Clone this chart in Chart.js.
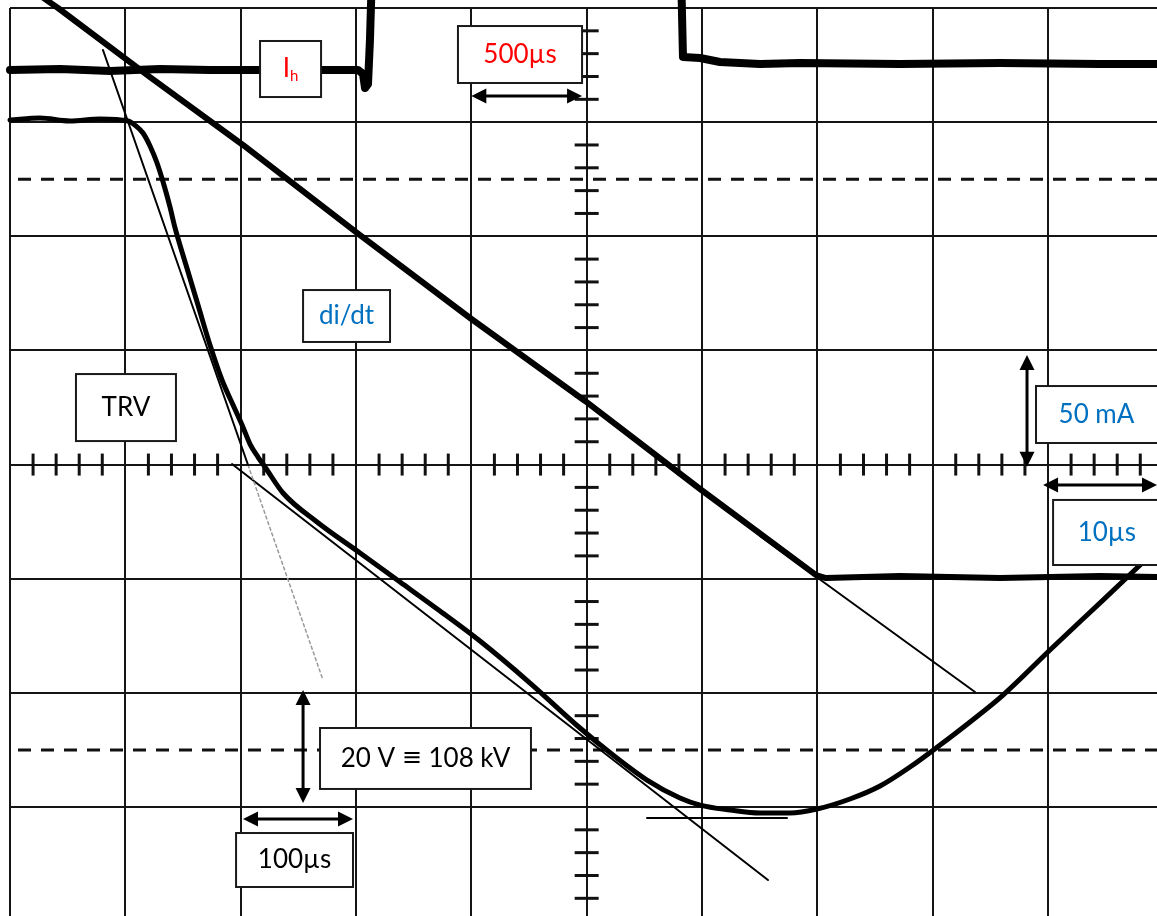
<!DOCTYPE html>
<html>
<head>
<meta charset="utf-8">
<script src="https://cdn.jsdelivr.net/npm/chart.js@4.4.1/dist/chart.umd.min.js"></script>
<style>
  html, body { margin: 0; padding: 0; background: #fff; overflow: hidden; }
  #wrap { position: relative; width: 1157px; height: 916px; }
</style>
</head>
<body>
<div id="wrap"><canvas id="scope" width="1157" height="916"></canvas></div>
<script>
// Oscilloscope screen: 10 x 8 divisions, values are in divisions
// (x: 0..10 from the left edge, y: -4..4 around the centre line).
const X_DIVS = [0, 1, 2, 3, 4, 5, 6, 7, 8, 9];
const Y_DIVS = [-3, -2, -1, 0, 1, 2, 3, 4];
const RISE_MARKS = [2.5, -2.5];

// Holding current I_h (leaves the screen between the two edges)
const ih_x = [0, 0.434, 0.867, 1.301, 1.734, 2.168, 2.775, 3.017, 3.061, 3.078, 3.104, 3.121, 3.139,
              5.809, 5.818, 5.835, 5.983, 6.156, 6.503, 6.850, 7.717, 8.584, 9.451, 9.945];
const ih_y = [3.457, 3.466, 3.448, 3.466, 3.457, 3.457, 3.457, 3.457, 3.422, 3.299, 3.334, 3.720, 4.333,
              4.333, 4.333, 3.571, 3.562, 3.527, 3.509, 3.518, 3.509, 3.518, 3.509, 3.509];

// Current ramp di/dt down to its floor
const didt_x = [0.217, 0.416, 1.214, 2.020, 3.009, 3.989, 4.986, 5.983, 6.989, 7.075,
                7.717, 8.584, 9.451, 9.945];
const didt_y = [4.140, 4.000, 3.395, 2.800, 2.029, 1.284, 0.557, -0.214, -0.968, -0.994,
                -0.976, -0.994, -0.976, -0.985];

// Transient recovery voltage
const trv_x = [0, 0.260, 0.520, 0.780, 1.023, 1.093, 1.153, 1.214, 1.275, 1.335, 1.387, 1.431, 1.526,
               1.630, 1.734, 1.838, 1.934, 2.012, 2.081, 2.150, 2.211, 2.367, 2.662, 3.035, 3.382,
               3.728, 4.075, 4.509, 4.942, 5.228, 5.523, 5.809, 5.983, 6.243, 6.503, 6.763, 6.997,
               7.283, 7.544, 7.803, 8.064, 8.324, 8.610, 9.017, 9.477, 9.945];
const trv_y = [3.019, 3.036, 3.010, 3.028, 3.010, 2.966, 2.905, 2.791, 2.642, 2.449, 2.257, 2.073, 1.748,
               1.398, 1.047, 0.741, 0.522, 0.347, 0.180, 0.066, -0.021, -0.249, -0.503, -0.775, -1.029,
               -1.283, -1.546, -1.914, -2.308, -2.545, -2.764, -2.921, -2.983, -3.026, -3.053, -3.053, -3.018,
               -2.930, -2.816, -2.650, -2.457, -2.255, -2.019, -1.625, -1.187, -0.740];

// Hand-drawn tangents
const tan_didt_x = [6.503, 8.367];
const tan_didt_y = [-0.626, -1.993];
const tan_trv1_x = [0.806, 2.064];
const tan_trv1_y = [3.632, -0.004];
const tan_trv1_faint_x = [2.064, 2.714];
const tan_trv1_faint_y = [-0.004, -1.888];
const tan_trv2_x = [1.925, 6.572];
const tan_trv2_y = [0.005, -3.640];
const tan_min_x = [5.523, 6.737];
const tan_min_y = [-3.097, -3.097];

const pts = (xs, ys) => xs.map((x, i) => ({ x, y: ys[i] }));

const RED = '#ff0000';
const BLUE = '#0070c0';
const INK = '#000000';
const FONT = "Lato, 'Open Sans', sans-serif";
const SYM_FONT = "'DejaVu Sans', sans-serif";

// Label boxes and scale arrows, placed in screen divisions
const LABELS = [
  { box: [2.168, 3.711, 2.697, 3.220], parts: [{ t: 'I', c: RED }, { t: 'h', c: RED, sub: true }] },
  { box: [3.884, 3.842, 4.960, 3.343], parts: [{ t: '500µs', c: RED }] },
  { box: [2.541, 1.529, 3.295, 1.074], parts: [{ t: 'di/dt', c: BLUE }] },
  { box: [0.572, 0.793, 1.439, 0.206], parts: [{ t: 'TRV', c: INK }] },
  { box: [8.896, 0.688, 10.05, 0.189], parts: [{ t: '50 mA', c: BLUE }], textX: 9.42 },
  { box: [9.044, -0.310, 10.05, -0.880], parts: [{ t: '10µs', c: BLUE }], textX: 9.51 },
  { box: [2.688, -2.308, 4.517, -2.842],
    parts: [{ t: '20 V ', c: INK }, { t: '\u2261', c: INK, sym: true }, { t: ' 108 kV', c: INK }] },
  { box: [1.960, -3.228, 2.974, -3.701], parts: [{ t: '100µs', c: INK }] }
];
const ARROWS = [
  [4.000, 3.229, 4.960, 3.229],
  [8.818, 0.960, 8.818, -0.020],
  [8.957, -0.179, 9.945, -0.179],
  [2.541, -1.975, 2.541, -2.965],
  [2.020, -3.105, 2.974, -3.105]
];

const graticule = {
  id: 'graticule',
  beforeDatasetsDraw(chart) {
    const { ctx, chartArea: a, scales: { x, y } } = chart;
    ctx.save();
    // dashed rise-time marks
    ctx.strokeStyle = '#111';
    ctx.lineWidth = 3;
    ctx.setLineDash([13, 10]);
    RISE_MARKS.forEach(v => {
      const py = y.getPixelForValue(v);
      ctx.beginPath();
      ctx.moveTo(a.left + 8, py);
      ctx.lineTo(a.right, py);
      ctx.stroke();
    });
    ctx.setLineDash([]);
    // minor ticks on the centre cross
    const cy = y.getPixelForValue(0), cx = x.getPixelForValue(5);
    ctx.lineWidth = 3;
    for (let k = 1; k < 50; k++) {
      if (k % 5 === 0) continue;
      const px = x.getPixelForValue(k * 0.2);
      ctx.beginPath(); ctx.moveTo(px, cy - 11); ctx.lineTo(px, cy + 11); ctx.stroke();
    }
    for (let k = -19; k < 20; k++) {
      if (k % 5 === 0) continue;
      const py = y.getPixelForValue(k * 0.2);
      ctx.beginPath(); ctx.moveTo(cx - 12, py); ctx.lineTo(cx + 12, py); ctx.stroke();
    }
    ctx.restore();
  }
};

function arrowHead(ctx, x, y, ang) {
  const L = 15, W = 7.5;
  ctx.beginPath();
  ctx.moveTo(x, y);
  ctx.lineTo(x - L * Math.cos(ang) + W * Math.sin(ang), y - L * Math.sin(ang) - W * Math.cos(ang));
  ctx.lineTo(x - L * Math.cos(ang) - W * Math.sin(ang), y - L * Math.sin(ang) + W * Math.cos(ang));
  ctx.closePath();
  ctx.fill();
}

const partFont = p => p.sub ? '15px ' + FONT : (p.sym ? '24px ' + SYM_FONT : '26px ' + FONT);

const annotations = {
  id: 'annotations',
  afterDatasetsDraw(chart) {
    const { ctx, scales: { x, y } } = chart;
    ctx.save();
    LABELS.forEach(lb => {
      const x0 = x.getPixelForValue(lb.box[0]), y0 = y.getPixelForValue(lb.box[1]);
      const x1 = x.getPixelForValue(lb.box[2]), y1 = y.getPixelForValue(lb.box[3]);
      ctx.fillStyle = '#fff';
      ctx.fillRect(x0, y0, x1 - x0, y1 - y0);
      ctx.strokeStyle = '#1a1a1a';
      ctx.lineWidth = 2;
      ctx.strokeRect(x0, y0, x1 - x0, y1 - y0);
      const cxp = lb.textX !== undefined ? x.getPixelForValue(lb.textX) : (x0 + x1) / 2;
      const cyp = (y0 + y1) / 2;
      ctx.textBaseline = 'middle';
      ctx.textAlign = 'left';
      const widths = lb.parts.map(p => { ctx.font = partFont(p); return ctx.measureText(p.t).width; });
      let px = cxp - widths.reduce((s, w) => s + w, 0) / 2;
      lb.parts.forEach((p, i) => {
        ctx.font = partFont(p);
        ctx.fillStyle = p.c;
        ctx.fillText(p.t, px, cyp + (p.sub ? 7 : 0));
        px += widths[i];
      });
    });
    ctx.strokeStyle = INK;
    ctx.fillStyle = INK;
    ctx.lineWidth = 3;
    ARROWS.forEach(([a, b, c, d]) => {
      const xa = x.getPixelForValue(a), ya = y.getPixelForValue(b);
      const xb = x.getPixelForValue(c), yb = y.getPixelForValue(d);
      const ang = Math.atan2(yb - ya, xb - xa);
      ctx.beginPath();
      ctx.moveTo(xa + 8 * Math.cos(ang), ya + 8 * Math.sin(ang));
      ctx.lineTo(xb - 8 * Math.cos(ang), yb - 8 * Math.sin(ang));
      ctx.stroke();
      arrowHead(ctx, xb, yb, ang);
      arrowHead(ctx, xa, ya, ang + Math.PI);
    });
    ctx.restore();
  }
};

const trace = (data, width, extra) => Object.assign({
  data, borderColor: INK, borderWidth: width, pointRadius: 0, fill: false,
  tension: 0, clip: false, borderJoinStyle: 'round', borderCapStyle: 'round'
}, extra || {});

new Chart(document.getElementById('scope'), {
  type: 'line',
  data: {
    datasets: [
      trace(pts(ih_x, ih_y), 8),
      trace(pts(didt_x, didt_y), 6),
      trace(pts(trv_x, trv_y), 5, { cubicInterpolationMode: 'monotone' }),
      trace(pts(tan_didt_x, tan_didt_y), 2),
      trace(pts(tan_trv1_x, tan_trv1_y), 2),
      trace(pts(tan_trv1_faint_x, tan_trv1_faint_y), 1.5, { borderColor: '#9a9a9a', borderDash: [3, 3] }),
      trace(pts(tan_trv2_x, tan_trv2_y), 2),
      trace(pts(tan_min_x, tan_min_y), 2)
    ]
  },
  options: {
    responsive: false,
    animation: false,
    devicePixelRatio: 1,
    layout: { padding: { left: 10, top: 8, right: 0, bottom: 0 } },
    plugins: { legend: { display: false }, tooltip: { enabled: false } },
    scales: {
      x: {
        type: 'linear', min: 0, max: 9.945,
        afterBuildTicks: s => { s.ticks = X_DIVS.map(v => ({ value: v })); },
        ticks: { display: false },
        grid: { color: '#151515', lineWidth: 2, drawTicks: false },
        border: { display: false }
      },
      y: {
        type: 'linear', min: -3.955, max: 4,
        afterBuildTicks: s => { s.ticks = Y_DIVS.map(v => ({ value: v })); },
        ticks: { display: false },
        grid: { color: '#151515', lineWidth: 2, drawTicks: false },
        border: { display: false }
      }
    }
  },
  plugins: [graticule, annotations]
});
</script>
</body>
</html>
